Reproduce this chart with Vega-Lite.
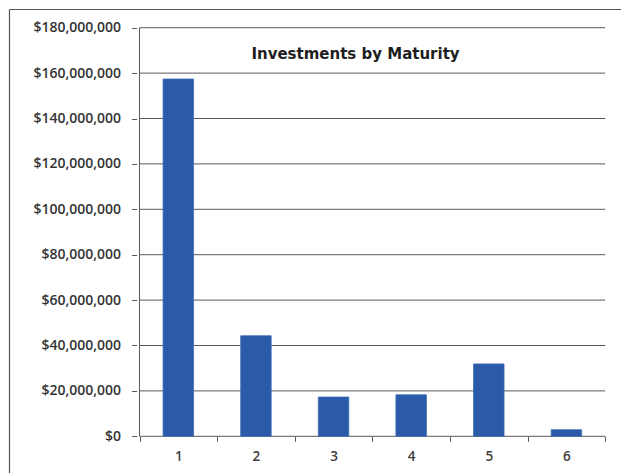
{
  "$schema": "https://vega.github.io/schema/vega-lite/v6.json",
  "autosize": {"type": "none"},
  "padding": {"left": 9, "top": 9, "right": 0, "bottom": 0},
  "width": 612,
  "height": 464,
  "background": "white",
  "config": {"view": {"stroke": null}},
  "title": {
    "text": "Investments by Maturity",
    "orient": "top",
    "frame": "group",
    "anchor": "middle",
    "dx": 40.5,
    "offset": -65,
    "baseline": "alphabetic",
    "font": "DejaVu Sans",
    "fontSize": 15,
    "fontWeight": "bold",
    "color": "#1e1e1e"
  },
  "resolve": {"axis": {"x": "independent", "y": "independent"}},
  "layer": [
    {
      "data": {"values": [
        {"g": 0}, {"g": 20000000}, {"g": 40000000}, {"g": 60000000}, {"g": 80000000},
        {"g": 100000000}, {"g": 120000000}, {"g": 140000000}, {"g": 160000000}, {"g": 180000000}
      ]},
      "mark": {"type": "rule", "color": "#5a5a5a", "strokeWidth": 1},
      "encoding": {
        "y": {
          "field": "g", "type": "quantitative",
          "scale": {"domain": [-16170000, 188240000], "nice": false},
          "axis": {
            "orient": "left", "offset": -127.6,
            "values": [0, 20000000, 40000000, 60000000, 80000000, 100000000, 120000000, 140000000, 160000000, 180000000],
            "format": "$,.0f", "title": null, "domain": false, "grid": false,
            "ticks": true, "tickSize": 5, "tickColor": "#555555", "tickWidth": 1,
            "labelPadding": 11, "labelFont": "Open Sans", "labelFontSize": 14, "labelFontWeight": 600,
            "labelColor": "#333333"
          }
        },
        "x": {
          "datum": 0.5, "type": "quantitative",
          "scale": {"domain": [-1.117, 6.639], "nice": false, "zero": false},
          "axis": {
            "orient": "top", "offset": 0, "title": null, "domain": true, "domainColor": "#555555", "domainWidth": 1.2,
            "ticks": false, "labels": false, "grid": false
          }
        },
        "x2": {"datum": 6.5}
      }
    },
    {
      "data": {"values": [
        {"maturity": 1, "amount": 157400000},
        {"maturity": 2, "amount": 44300000},
        {"maturity": 3, "amount": 17300000},
        {"maturity": 4, "amount": 18300000},
        {"maturity": 5, "amount": 31900000},
        {"maturity": 6, "amount": 2900000}
      ]},
      "mark": {"type": "bar", "orient": "vertical", "width": 30.5, "color": "#2a5aa8", "stroke": "#3f6db5", "strokeWidth": 0.8},
      "encoding": {
        "x": {
          "field": "maturity", "type": "quantitative",
          "scale": {"domain": [-1.117, 6.639], "nice": false, "zero": false},
          "axis": {
            "orient": "bottom", "offset": -36.7, "values": [1, 2, 3, 4, 5, 6], "format": "d",
            "title": null, "domain": false, "grid": false, "ticks": false, "tickSize": 0,
            "labelPadding": 13, "labelFont": "Open Sans", "labelFontSize": 13.5, "labelFontWeight": 600,
            "labelColor": "#3c3c3c"
          }
        },
        "y": {
          "field": "amount", "type": "quantitative",
          "scale": {"domain": [-16170000, 188240000], "nice": false},
          "axis": {
            "orient": "left", "offset": 0, "title": null, "domain": true, "domainColor": "#555555", "domainWidth": 1.2,
            "ticks": false, "labels": false, "grid": false
          }
        }
      }
    },
    {
      "data": {"values": [{"line": "value axis"}]},
      "mark": {"type": "rule", "color": "#5a5a5a", "strokeWidth": 1},
      "encoding": {
        "x": {
          "datum": 0.5, "type": "quantitative",
          "scale": {"domain": [-1.117, 6.639], "nice": false, "zero": false},
          "axis": {
            "orient": "bottom", "offset": -36.7, "values": [0.5, 1.5, 2.5, 3.5, 4.5, 5.5, 6.5],
            "title": null, "domain": false, "grid": false, "labels": false,
            "ticks": true, "tickSize": 5, "tickColor": "#555555", "tickWidth": 1
          }
        },
        "y": {"datum": 0, "type": "quantitative", "scale": {"domain": [-16170000, 188240000], "nice": false}, "axis": null},
        "y2": {"datum": 180000000}
      }
    }
  ]
}
